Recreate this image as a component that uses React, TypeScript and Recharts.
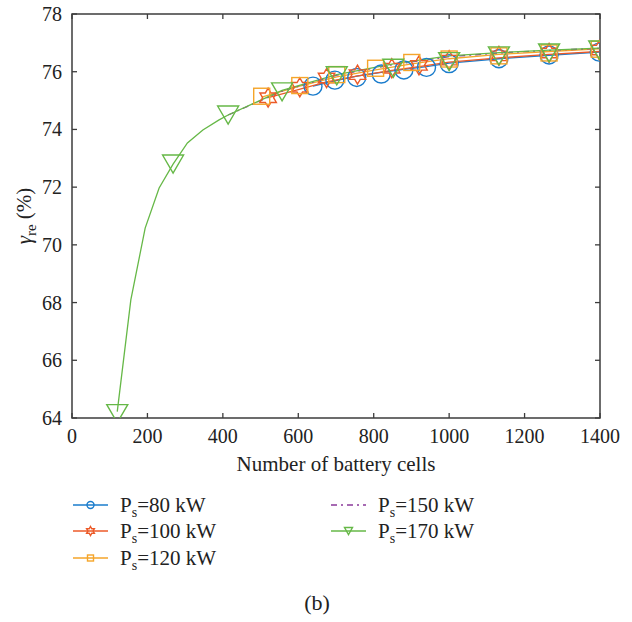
import React from "react";
import {
  ComposedChart,
  Line,
  Scatter,
  XAxis,
  YAxis,
  ReferenceArea,
} from "recharts";

// axis ticks
const xTicks = [0, 200, 400, 600, 800, 1000, 1200, 1400];
const yTicks = [64, 66, 68, 70, 72, 74, 76, 78];

// Ps = 80 kW
const line80X = [639, 697, 755, 820, 880, 940, 1000, 1132, 1265, 1398];
const line80Y = [75.5, 75.68, 75.85, 75.98, 76.08, 76.18, 76.3, 76.45, 76.57, 76.68];
const mark80X = [639, 697, 755, 820, 880, 940, 1000, 1132, 1265, 1398];
const mark80Y = [75.5, 75.71, 75.8, 75.92, 76.06, 76.15, 76.28, 76.45, 76.58, 76.68];

// Ps = 100 kW
const line100X = [520, 600, 675, 755, 848, 920, 1000, 1132, 1265, 1398];
const line100Y = [75.1, 75.38, 75.65, 75.85, 76.05, 76.18, 76.33, 76.48, 76.6, 76.7];
const mark100X = [520, 604, 675, 757, 848, 920, 1000, 1132, 1265, 1398];
const mark100Y = [75.1, 75.46, 75.78, 75.9, 76.12, 76.22, 76.4, 76.55, 76.65, 76.75];

// Ps = 120 kW
const line120X = [503, 604, 702, 805, 901, 1000, 1132, 1265, 1398];
const line120Y = [75.12, 75.5, 75.82, 76.06, 76.27, 76.45, 76.6, 76.7, 76.79];
const mark120X = [503, 604, 702, 805, 901, 1000, 1132, 1265, 1398];
const mark120Y = [75.15, 75.52, 75.9, 76.12, 76.32, 76.44, 76.55, 76.65, 76.78];

// Ps = 150 kW (hidden under the 170 kW curve)
const line150X = [414, 557, 702, 852, 1000, 1132, 1265, 1398];
const line150Y = [74.5, 75.33, 75.88, 76.25, 76.52, 76.65, 76.74, 76.81];

// Ps = 170 kW
const line170X = [120, 156, 194, 231, 268, 306, 347, 390, 414, 557, 702, 852, 1000, 1132, 1265, 1398];
const line170Y = [64.22, 68.09, 70.58, 71.97, 72.8, 73.53, 73.98, 74.33, 74.5, 75.35, 75.9, 76.27, 76.55, 76.66, 76.75, 76.82];
const mark170X = [120, 268, 414, 557, 702, 852, 1000, 1132, 1265, 1398];
const mark170Y = [64.15, 72.8, 74.5, 75.3, 75.86, 76.12, 76.35, 76.55, 76.65, 76.75];

const zip = (xs: number[], ys: number[]) => xs.map((x, i) => ({ x, y: ys[i] }));

const BLUE = "#1a7ccc";
const RED = "#ec5a28";
const YELLOW = "#f5a52a";
const PURPLE = "#8a3a9a";
const GREEN = "#66b847";
const AXIS = "#3c3c3c";
const TEXT = "#222";
const FONT = "'Liberation Serif', 'DejaVu Serif', serif";

// plot box edges in pixels (used for the inward ticks on all four sides)
const PLOT_LEFT = 72;
const PLOT_RIGHT = 600;
const PLOT_TOP = 14;
const PLOT_BOTTOM = 418;
const TICK = 5;

type MP = { cx?: number; cy?: number };

const circleShape = (r: number, c: string) => (p: MP) =>
  <circle cx={p.cx} cy={p.cy} r={r} fill="none" stroke={c} strokeWidth={1.4} />;

const squareShape = (s: number, c: string) => (p: MP) =>
  <rect x={(p.cx ?? 0) - s / 2} y={(p.cy ?? 0) - s / 2} width={s} height={s} fill="none" stroke={c} strokeWidth={1.4} />;

const starShape = (R: number, c: string) => (p: MP) => {
  const cx = p.cx ?? 0;
  const cy = p.cy ?? 0;
  const r = R / Math.sqrt(3);
  const pts: string[] = [];
  for (let k = 0; k < 12; k++) {
    const a = ((-90 + k * 30) * Math.PI) / 180;
    const rr = k % 2 === 0 ? R : r;
    pts.push(`${cx + rr * Math.cos(a)},${cy + rr * Math.sin(a)}`);
  }
  return <polygon points={pts.join(" ")} fill="none" stroke={c} strokeWidth={1.4} />;
};

const triShape = (w: number, h: number, c: string) => (p: MP) => {
  const cx = p.cx ?? 0;
  const cy = p.cy ?? 0;
  const pts = `${cx - w / 2},${cy - h / 2} ${cx + w / 2},${cy - h / 2} ${cx},${cy + h / 2}`;
  return <polygon points={pts} fill="none" stroke={c} strokeWidth={1.4} />;
};

const XTick = (props: any) => {
  const { x, payload } = props;
  return (
    <g>
      <line x1={x} x2={x} y1={PLOT_BOTTOM} y2={PLOT_BOTTOM - TICK} stroke={AXIS} strokeWidth={1.3} />
      <line x1={x} x2={x} y1={PLOT_TOP} y2={PLOT_TOP + TICK} stroke={AXIS} strokeWidth={1.3} />
      <text x={x} y={443} textAnchor="middle" fontSize={20} fontFamily={FONT} fill={TEXT}>
        {payload.value}
      </text>
    </g>
  );
};

const YTick = (props: any) => {
  const { y, payload } = props;
  return (
    <g>
      <line x1={PLOT_LEFT} x2={PLOT_LEFT + TICK} y1={y} y2={y} stroke={AXIS} strokeWidth={1.3} />
      <line x1={PLOT_RIGHT} x2={PLOT_RIGHT - TICK} y1={y} y2={y} stroke={AXIS} strokeWidth={1.3} />
      <text x={62} y={y} dy="0.35em" textAnchor="end" fontSize={20} fontFamily={FONT} fill={TEXT}>
        {payload.value}
      </text>
    </g>
  );
};

const legendItems = [
  { label: "80 kW", color: BLUE, marker: circleShape(3.5, BLUE), dash: undefined, left: 73, top: 505 },
  { label: "100 kW", color: RED, marker: starShape(4.5, RED), dash: undefined, left: 73, top: 531 },
  { label: "120 kW", color: YELLOW, marker: squareShape(6, YELLOW), dash: undefined, left: 73, top: 558 },
  { label: "150 kW", color: PURPLE, marker: null, dash: "6 4 2 4", left: 331, top: 505 },
  { label: "170 kW", color: GREEN, marker: triShape(8, 7, GREEN), dash: undefined, left: 331, top: 531 },
];

const App = () => {
  return (
    <div style={{ position: "absolute", left: 0, top: 0, width: 632, height: 622, background: "#fff", fontFamily: FONT }}>
      <ComposedChart
        width={632}
        height={460}
        margin={{ top: PLOT_TOP, right: 632 - PLOT_RIGHT, left: 12, bottom: 12 }}
      >
        <XAxis
          dataKey="x"
          type="number"
          domain={[0, 1400]}
          ticks={xTicks}
          allowDataOverflow
          height={460 - 12 - PLOT_BOTTOM}
          axisLine={false}
          tickLine={false}
          tick={XTick}
        />
        <YAxis
          type="number"
          domain={[64, 78]}
          ticks={yTicks}
          allowDataOverflow
          width={PLOT_LEFT - 12}
          axisLine={false}
          tickLine={false}
          tick={YTick}
        />

        <ReferenceArea x1={0} x2={1400} y1={64} y2={78} fill="#fff" fillOpacity={0} stroke={AXIS} strokeWidth={1.5} />

        <Line data={zip(line80X, line80Y)} dataKey="y" stroke={BLUE} strokeWidth={1.3} dot={false} isAnimationActive={false} />
        <Scatter data={zip(mark80X, mark80Y)} dataKey="y" shape={circleShape(9, BLUE)} isAnimationActive={false} />

        <Line data={zip(line100X, line100Y)} dataKey="y" stroke={RED} strokeWidth={1.3} dot={false} isAnimationActive={false} />
        <Scatter data={zip(mark100X, mark100Y)} dataKey="y" shape={starShape(9.5, RED)} isAnimationActive={false} />

        <Line data={zip(line120X, line120Y)} dataKey="y" stroke={YELLOW} strokeWidth={1.3} dot={false} isAnimationActive={false} />
        <Scatter data={zip(mark120X, mark120Y)} dataKey="y" shape={squareShape(16, YELLOW)} isAnimationActive={false} />

        <Line data={zip(line150X, line150Y)} dataKey="y" stroke={PURPLE} strokeWidth={1.3} strokeDasharray="6 4 2 4" dot={false} isAnimationActive={false} />

        <Line data={zip(line170X, line170Y)} dataKey="y" stroke={GREEN} strokeWidth={1.3} dot={false} isAnimationActive={false} />
        <Scatter data={zip(mark170X, mark170Y)} dataKey="y" shape={triShape(21, 18, GREEN)} isAnimationActive={false} />
      </ComposedChart>

      {/* y axis title */}
      <div
        style={{
          position: "absolute",
          left: 26,
          top: 216,
          transform: "translate(-50%, -50%) rotate(-90deg)",
          fontSize: 21,
          color: TEXT,
          whiteSpace: "nowrap",
        }}
      >
        <i>γ</i>
        <sub style={{ fontSize: 15 }}>re</sub> (%)
      </div>

      {/* x axis title */}
      <div style={{ position: "absolute", left: 336, top: 464, transform: "translate(-50%, -50%)", fontSize: 21, color: TEXT, whiteSpace: "nowrap" }}>
        Number of battery cells
      </div>

      {/* legend */}
      {legendItems.map((it) => {
        const M = it.marker;
        return (
          <div key={it.label} style={{ position: "absolute", left: it.left, top: it.top - 14, height: 28, display: "flex", alignItems: "center" }}>
            <svg width={36} height={16} style={{ marginRight: 11 }}>
              <line x1={0} y1={8} x2={35} y2={8} stroke={it.color} strokeWidth={1.5} strokeDasharray={it.dash} />
              {M && <M cx={17.5} cy={8} />}
            </svg>
            <span style={{ fontSize: 21, color: TEXT, whiteSpace: "nowrap", lineHeight: "28px" }}>
              P<sub style={{ fontSize: 14, lineHeight: 0 }}>s</sub>={it.label}
            </span>
          </div>
        );
      })}

      <div style={{ position: "absolute", left: 317, top: 603, transform: "translate(-50%, -50%)", fontSize: 22, color: TEXT }}>
        (b)
      </div>
    </div>
  );
};

export default App;
